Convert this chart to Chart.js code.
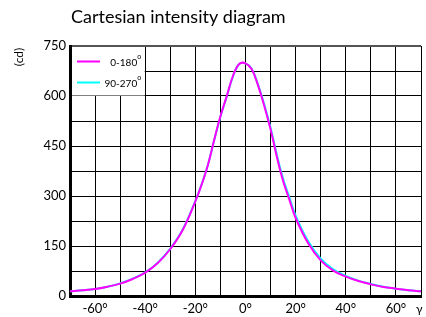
<!DOCTYPE html>
<html lang="en">
<head>
  <meta charset="utf-8"/>
  <title>Cartesian intensity diagram</title>
  <script src="https://cdn.jsdelivr.net/npm/chart.js"></script>
  <style>
    html, body { margin: 0; padding: 0; background: #fff; }
    #wrap { width: 426px; height: 317px; position: relative; }
  </style>
</head>
<body>
  <div id="wrap"><canvas id="chart" width="426" height="317"></canvas></div>

  <script>
    // ── DATA ─────────────────────────────────────────
    const titleText = 'Cartesian intensity diagram';
    const unitLabel = '(cd)';
    const angleLabel = 'γ';
    const seriesNames = ['0-180', '90-270'];
    const angles = [-70, -65, -60, -55, -50, -45, -40, -35, -30, -25, -20, -17.5, -15, -12.5, -10, -7.5, -5, -2.5, 0, 2.5, 5, 7.5, 10, 12.5, 15, 17.5, 20, 25, 30, 35, 40, 45, 50, 55, 60, 65, 70];
    const c0_180 = [14, 17, 21, 28, 37, 51, 70, 99, 141, 199, 284, 334, 393, 468, 539, 599, 660, 696, 698, 680, 632, 570, 500, 418, 345, 289, 234, 158, 107, 76, 58, 45, 35, 27, 22, 17, 14];
    const c90_270 = [14, 17, 21, 28, 38, 52, 71, 100, 142, 200, 285, 335, 393, 467, 538, 598, 659, 696, 698, 681, 634, 574, 505, 424, 352, 296, 241, 164, 112, 80, 60, 46, 36, 28, 22, 17, 14];
    const yTicksLabelled = [0, 150, 300, 450, 600, 750];
    const xTicksLabelled = [-60, -40, -20, 0, 20, 40, 60];
    // ─────────────────────────────────────────────────

    const FONT = 'Lato, "DejaVu Sans", sans-serif';

    function pts(vals) {
      return angles.map((a, i) => ({ x: a, y: vals[i] }));
    }

    // white legend box in the upper left cell block + extra texts
    const decor = {
      id: 'decor',
      beforeDatasetsDraw(chart) {
        const { ctx, chartArea, scales } = chart;
        const x1 = scales.x.getPixelForValue(-40);
        const y1 = scales.y.getPixelForValue(600);
        ctx.save();
        ctx.fillStyle = '#fff';
        ctx.fillRect(chartArea.left + 2, chartArea.top + 1, x1 - chartArea.left - 2.5, y1 - chartArea.top - 1.5);

        const rows = [scales.y.getPixelForValue(705), scales.y.getPixelForValue(642)];
        chart.data.datasets.forEach((ds, i) => {
          const y = Math.round(rows[i]) + 0.5;
          ctx.strokeStyle = ds.borderColor;
          ctx.lineWidth = 2;
          ctx.beginPath();
          ctx.moveTo(chartArea.left + 7, y);
          ctx.lineTo(chartArea.left + 30, y);
          ctx.stroke();
          ctx.fillStyle = '#000';
          ctx.font = '10px ' + FONT;
          ctx.textAlign = 'right';
          ctx.textBaseline = 'middle';
          ctx.fillText(ds.label, x1 - 8, y + 1);
          ctx.font = '7px ' + FONT;
          ctx.textAlign = 'left';
          ctx.fillText('o', x1 - 8, y - 5);
        });
        ctx.restore();
      },
      afterDraw(chart) {
        const { ctx, chartArea } = chart;
        ctx.save();
        ctx.fillStyle = '#000';
        ctx.font = '18px ' + FONT;
        ctx.textAlign = 'left';
        ctx.textBaseline = 'middle';
        ctx.fillText(titleText, chartArea.left + 1, 17);

        ctx.font = '12px ' + FONT;
        ctx.translate(19, 57);
        ctx.rotate(-Math.PI / 2);
        ctx.textAlign = 'center';
        ctx.fillText(unitLabel, 0, 0);
        ctx.restore();

        ctx.save();
        ctx.fillStyle = '#000';
        ctx.font = '12px ' + FONT;
        ctx.textAlign = 'left';
        ctx.textBaseline = 'middle';
        ctx.fillText(angleLabel, chartArea.right - 5, 309);
        ctx.restore();
      }
    };

    const chart = new Chart(document.getElementById('chart'), {
      type: 'line',
      data: {
        datasets: [
          { label: seriesNames[0], data: pts(c0_180), borderColor: '#ff00ff', borderWidth: 2, pointRadius: 0, tension: 0.4, fill: false },
          { label: seriesNames[1], data: pts(c90_270), borderColor: '#00ffff', borderWidth: 2, pointRadius: 0, tension: 0.4, fill: false }
        ]
      },
      options: {
        responsive: false,
        animation: false,
        layout: { padding: { top: 46, left: 0, right: 0, bottom: 0 } },
        plugins: {
          legend: { display: false },
          title: { display: false },
          tooltip: { enabled: false }
        },
        scales: {
          x: {
            type: 'linear',
            min: -70, max: 70,
            afterFit(scale) { scale.height = 21; },
            border: { color: '#000', width: 3 },
            grid: { color: '#000', lineWidth: 1, drawTicks: false },
            ticks: {
              stepSize: 10, autoSkip: false, maxRotation: 0, padding: 5,
              color: '#000', font: { family: FONT, size: 13 },
              callback: v => xTicksLabelled.includes(v) ? v + '°' : ''
            }
          },
          y: {
            min: 0, max: 750,
            afterFit(scale) { scale.width = 70; },
            border: { color: '#000', width: 3 },
            grid: {
              drawTicks: false,
              color: ctx => ctx.tick && ctx.tick.value === 750 ? '#555' : '#000',
              lineWidth: ctx => ctx.tick && ctx.tick.value === 750 ? 2 : 1
            },
            ticks: {
              stepSize: 75, autoSkip: false, padding: 4,
              color: '#000', font: { family: FONT, size: 13 },
              callback: v => yTicksLabelled.includes(v) ? String(v) : ''
            }
          }
        }
      },
      plugins: [decor]
    });
  </script>
</body>
</html>
